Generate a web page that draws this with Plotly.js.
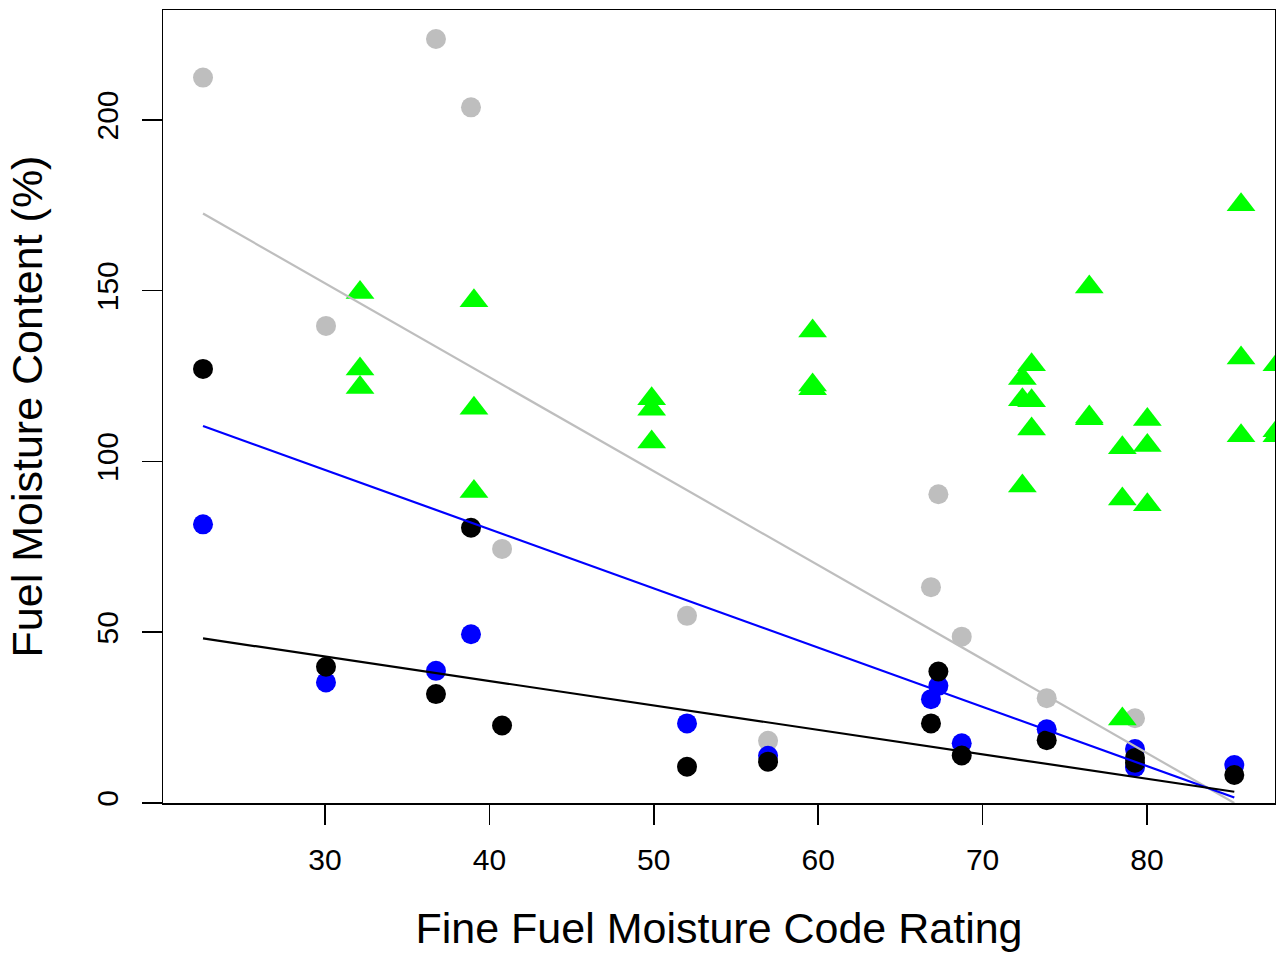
<!DOCTYPE html>
<html>
<head>
<meta charset="utf-8">
<script src="https://cdn.plot.ly/plotly-3.0.1.min.js"></script>
<style>html,body{margin:0;padding:0;background:#fff;}#chart{width:1276px;height:954px;}</style>
</head>
<body>
<div id="chart"></div>
<script>
// Gray circles
var grayX = [22.58, 30.06, 36.75, 38.88, 40.77, 52.02, 56.95, 66.86, 67.31, 68.73, 73.90, 79.27];
var grayY = [212.4, 139.7, 223.7, 203.7, 74.4, 54.8, 18.2, 63.2, 90.4, 48.7, 30.7, 24.8];
// Blue circles
var blueX = [22.58, 30.06, 36.75, 38.88, 52.02, 56.95, 66.86, 67.31, 68.73, 73.90, 79.27, 79.27, 85.31];
var blueY = [81.6, 35.3, 38.7, 49.4, 23.3, 13.8, 30.4, 34.3, 17.5, 21.6, 15.8, 10.5, 11.1];
// Black circles
var blackX = [22.58, 30.06, 36.75, 38.88, 40.77, 52.02, 56.95, 66.86, 67.31, 68.73, 73.90, 79.27, 79.27, 85.31];
var blackY = [127.1, 39.9, 31.9, 80.6, 22.7, 10.6, 12.1, 23.3, 38.5, 13.9, 18.4, 13.2, 11.8, 8.2];
// Green triangles
var greenX = [32.13, 32.13, 32.13, 39.06, 39.06, 39.06, 49.87, 49.87, 49.87, 59.66, 59.66, 59.66,
              72.42, 72.42, 72.42, 72.98, 72.98, 72.98, 76.49, 76.49, 76.49, 78.50, 78.50, 78.50,
              80.02, 80.02, 80.02, 85.72, 85.72, 85.72, 87.90, 87.90, 87.90];
var greenY = [149.5, 127.1, 121.7, 147.1, 115.6, 91.2, 118.4, 115.3, 105.7, 138.2, 122.4, 121.3,
              124.3, 118.1, 92.8, 128.3, 117.8, 109.5, 151.1, 113.0, 112.5, 104.0, 89.0, 24.6,
              112.3, 104.7, 87.3, 175.2, 130.3, 107.5, 128.3, 109.0, 107.5];
// Fitted regression lines (end points)
var fitX = [22.58, 85.31];
var grayFit = [172.6, 0.0];
var blueFit = [110.4, 1.6];
var blackFit = [48.2, 3.3];

var xTicks = [30, 40, 50, 60, 70, 80];
var yTicks = [0, 50, 100, 150, 200];

var FONT = 'Liberation Sans, Arial, Helvetica, sans-serif';

function pts(x, y, color, symbol, size) {
  return {x: x, y: y, type: 'scatter', mode: 'markers', showlegend: false, hoverinfo: 'skip',
          marker: {color: color, symbol: symbol, size: size, line: {width: 0}}};
}
function fit(y, color) {
  return {x: fitX, y: y, type: 'scatter', mode: 'lines', showlegend: false, hoverinfo: 'skip',
          line: {color: color, width: 2.2}};
}

var data = [
  pts(grayX, grayY, '#BEBEBE', 'circle', 20),
  pts(blueX, blueY, '#0000FF', 'circle', 20),
  pts(blackX, blackY, '#000000', 'circle', 20),
  pts(greenX, greenY, '#00FF00', 'triangle-up', 25),
  fit(grayFit, '#BEBEBE'),
  fit(blueFit, '#0000FF'),
  fit(blackFit, '#000000')
];

var layout = {
  width: 1276, height: 954,
  margin: {l: 163, r: 1, t: 10, b: 151, pad: 0},
  paper_bgcolor: '#ffffff', plot_bgcolor: '#ffffff',
  font: {family: FONT, color: '#000000'},
  xaxis: {
    range: [20.146, 87.786], tickvals: xTicks, ticktext: xTicks.map(String),
    showgrid: false, zeroline: false, showline: true, mirror: true, linecolor: '#000', linewidth: 1.5,
    ticks: 'outside', ticklen: 20, tickwidth: 1.5, tickcolor: '#000',
    tickfont: {family: FONT, size: 30, color: '#000'}, ticklabelstandoff: 9,
    title: {text: 'Fine Fuel Moisture Code Rating', font: {family: FONT, size: 43, color: '#000'}, standoff: 38}
  },
  yaxis: {
    range: [0, 232.2], tickvals: yTicks, ticktext: yTicks.map(String), tickangle: -90,
    showgrid: false, zeroline: false, showline: true, mirror: true, linecolor: '#000', linewidth: 1.5,
    ticks: 'outside', ticklen: 20, tickwidth: 1.5, tickcolor: '#000',
    tickfont: {family: FONT, size: 30, color: '#000'}, ticklabelstandoff: 12,
    title: {text: 'Fuel Moisture Content (%)', font: {family: FONT, size: 43, color: '#000'}, standoff: 34}
  }
};

Plotly.newPlot('chart', data, layout, {displayModeBar: false, staticPlot: true});
</script>
</body>
</html>
